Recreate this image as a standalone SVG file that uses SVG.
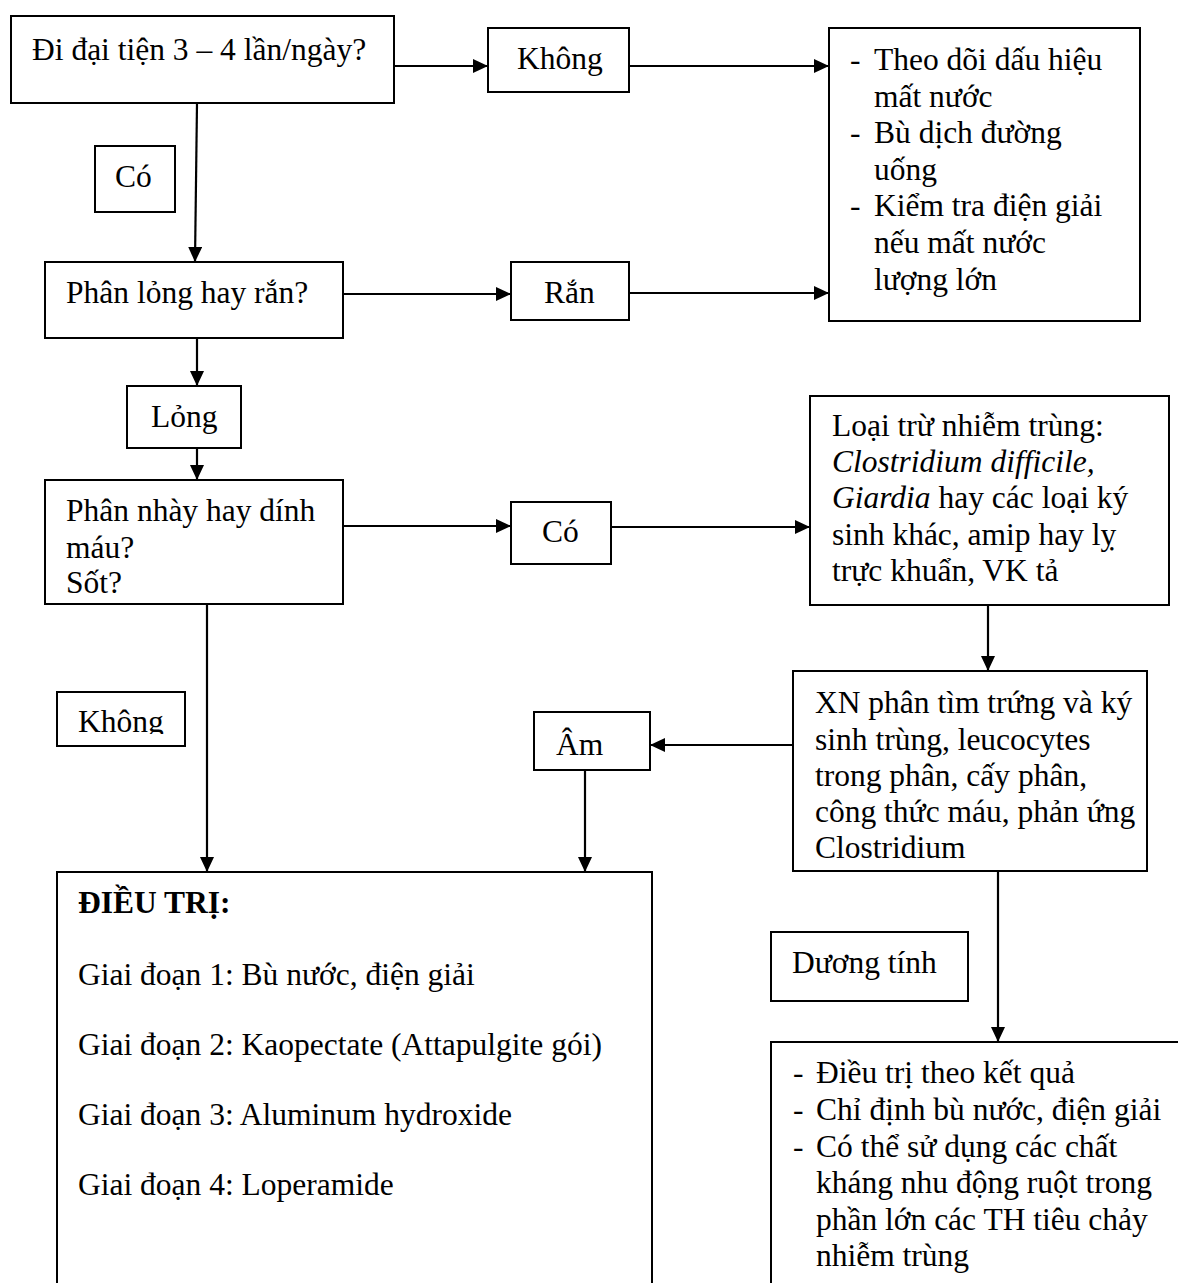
<svg xmlns="http://www.w3.org/2000/svg" width="1178" height="1283" viewBox="0 0 1178 1283">
<style>
.box{fill:#fff;stroke:#000;stroke-width:2}
.t{font-family:"Liberation Serif","Times New Roman",serif;font-size:31.5px;fill:#000}
.b{font-weight:bold}
.i{font-style:italic}
.c{fill:none;stroke:#000;stroke-width:2.2}
</style>
<defs>
<marker id="ah" markerUnits="userSpaceOnUse" markerWidth="15" markerHeight="14" refX="15" refY="7" orient="auto">
<path d="M0,0 L15,7 L0,14 z" fill="#000"/>
</marker>
<clipPath id="clipK"><rect x="57" y="692" width="128" height="42"/></clipPath>
</defs>
<rect x="0" y="0" width="1178" height="1283" fill="#fff"/>
<g id="connectors">
<line class="c" x1="394" y1="66" x2="488" y2="66" marker-end="url(#ah)"/>
<line class="c" x1="629" y1="66" x2="829" y2="66" marker-end="url(#ah)"/>
<line class="c" x1="197" y1="103" x2="195" y2="262" marker-end="url(#ah)"/>
<line class="c" x1="343" y1="294" x2="511" y2="294" marker-end="url(#ah)"/>
<line class="c" x1="629" y1="293" x2="829" y2="293" marker-end="url(#ah)"/>
<line class="c" x1="197" y1="338" x2="197" y2="386" marker-end="url(#ah)"/>
<line class="c" x1="197" y1="448" x2="197" y2="480" marker-end="url(#ah)"/>
<line class="c" x1="343" y1="526" x2="511" y2="526" marker-end="url(#ah)"/>
<line class="c" x1="611" y1="527" x2="810" y2="527" marker-end="url(#ah)"/>
<line class="c" x1="207" y1="604" x2="207" y2="872" marker-end="url(#ah)"/>
<line class="c" x1="988" y1="605" x2="988" y2="671" marker-end="url(#ah)"/>
<line class="c" x1="793" y1="745" x2="650" y2="745" marker-end="url(#ah)"/>
<line class="c" x1="585" y1="770" x2="585" y2="872" marker-end="url(#ah)"/>
<line class="c" x1="998" y1="871" x2="998" y2="1042" marker-end="url(#ah)"/>
</g>
<g id="n1"><rect class="box" x="11" y="16" width="383" height="87"/><text class="t" x="32" y="60">Đi đại tiện 3 – 4 lần/ngày?</text></g>
<g id="n2"><rect class="box" x="488" y="28" width="141" height="64"/><text class="t" x="517" y="69">Không</text></g>
<g id="n3"><rect class="box" x="829" y="28" width="311" height="293"/>
<text class="t"><tspan x="850" y="70">-</tspan><tspan x="874" y="70">Theo dõi dấu hiệu</tspan><tspan x="874" y="107">mất nước</tspan><tspan x="850" y="143">-</tspan><tspan x="874" y="143">Bù dịch đường</tspan><tspan x="874" y="180">uống</tspan><tspan x="850" y="216">-</tspan><tspan x="874" y="216">Kiểm tra điện giải</tspan><tspan x="874" y="253">nếu mất nước</tspan><tspan x="874" y="290">lượng lớn</tspan></text></g>
<g id="n4"><rect class="box" x="95" y="146" width="80" height="66"/><text class="t" x="115" y="187">Có</text></g>
<g id="n5"><rect class="box" x="45" y="262" width="298" height="76"/><text class="t" x="66" y="303">Phân lỏng hay rắn?</text></g>
<g id="n6"><rect class="box" x="511" y="262" width="118" height="58"/><text class="t" x="544" y="303">Rắn</text></g>
<g id="n7"><rect class="box" x="127" y="386" width="114" height="62"/><text class="t" x="151" y="427">Lỏng</text></g>
<g id="n8"><rect class="box" x="45" y="480" width="298" height="124"/>
<text class="t"><tspan x="66" y="521">Phân nhày hay dính</tspan><tspan x="66" y="558">máu?</tspan><tspan x="66" y="593">Sốt?</tspan></text></g>
<g id="n9"><rect class="box" x="511" y="502" width="100" height="62"/><text class="t" x="542" y="542">Có</text></g>
<g id="n10"><rect class="box" x="810" y="396" width="359" height="209"/>
<text class="t"><tspan x="832" y="436">Loại trừ nhiễm trùng:</tspan><tspan x="832" y="472" class="i">Clostridium difficile,</tspan><tspan x="832" y="508" class="i">Giardia</tspan><tspan> hay các loại ký</tspan><tspan x="832" y="545">sinh khác, amip hay lỵ</tspan><tspan x="832" y="581">trực khuẩn, VK tả</tspan></text></g>
<g id="n11"><rect class="box" x="57" y="692" width="128" height="54"/><text class="t" x="78" y="732" clip-path="url(#clipK)">Không</text></g>
<g id="n12"><rect class="box" x="793" y="671" width="354" height="200"/>
<text class="t"><tspan x="815" y="713">XN phân tìm trứng và ký</tspan><tspan x="815" y="750">sinh trùng, leucocytes</tspan><tspan x="815" y="786">trong phân, cấy phân,</tspan><tspan x="815" y="822">công thức máu, phản ứng</tspan><tspan x="815" y="858">Clostridium</tspan></text></g>
<g id="n13"><rect class="box" x="534" y="712" width="116" height="58"/><text class="t" x="556" y="755">Âm</text></g>
<g id="n14"><rect class="box" x="57" y="872" width="595" height="430"/>
<text class="t"><tspan x="78" y="913" class="b">ĐIỀU TRỊ:</tspan><tspan x="78" y="985">Giai đoạn 1: Bù nước, điện giải</tspan><tspan x="78" y="1055">Giai đoạn 2: Kaopectate (Attapulgite gói)</tspan><tspan x="78" y="1125">Giai đoạn 3: Aluminum hydroxide</tspan><tspan x="78" y="1195">Giai đoạn 4: Loperamide</tspan></text></g>
<g id="n15"><rect class="box" x="771" y="932" width="197" height="69"/><text class="t" x="792" y="973">Dương tính</text></g>
<g id="n16"><rect class="box" x="771" y="1042" width="430" height="260"/>
<text class="t"><tspan x="793" y="1083">-</tspan><tspan x="816" y="1083">Điều trị theo kết quả</tspan><tspan x="793" y="1120">-</tspan><tspan x="816" y="1120">Chỉ định bù nước, điện giải</tspan><tspan x="793" y="1157">-</tspan><tspan x="816" y="1157">Có thể sử dụng các chất</tspan><tspan x="816" y="1193">kháng nhu động ruột trong</tspan><tspan x="816" y="1230">phần lớn các TH tiêu chảy</tspan><tspan x="816" y="1266">nhiễm trùng</tspan></text></g>
</svg>
